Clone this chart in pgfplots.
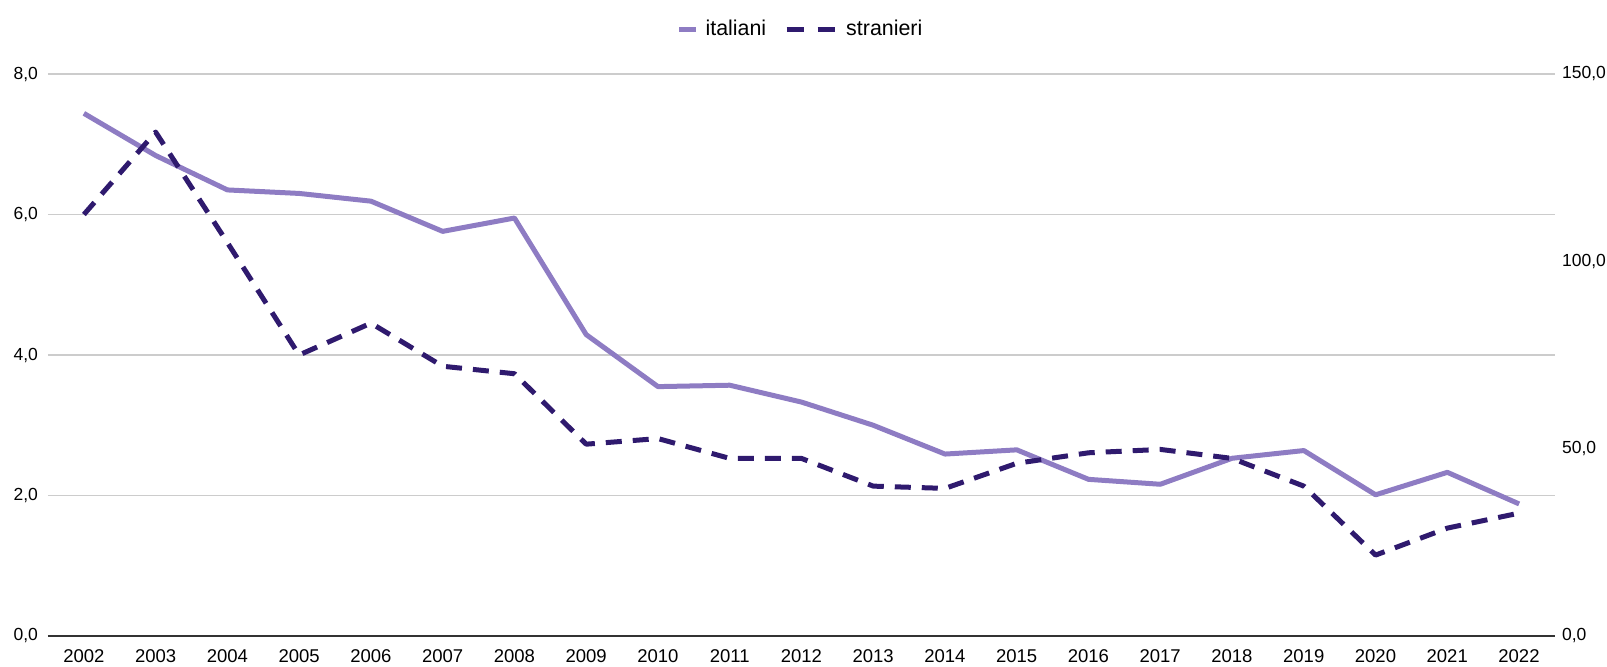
\documentclass[border=0pt]{standalone}
\usepackage{pgfplots}
\pgfplotsset{compat=1.18}
\usepackage{fontspec}
\setmainfont{Liberation Sans}
\definecolor{ital}{HTML}{8E7CC3}
\definecolor{stran}{HTML}{2F1A6E}
\definecolor{gridc}{HTML}{CCCCCC}
\definecolor{axc}{HTML}{333333}
\begin{document}
\begin{tikzpicture}
\path[use as bounding box] (-24pt,-15pt) rectangle (779.5pt,318pt);
\pgfplotsset{
  common/.style={
    scale only axis, width=753.5pt, height=281pt,
    at={(0,0)}, anchor=south west,
    xmin=2001.5, xmax=2022.5,
    ymin=0,
    tick style={draw=none},
    /pgf/number format/assume math mode=true,
    yticklabel style={font=\fontsize{8.75}{10}\selectfont, /pgf/number format/fixed, /pgf/number format/fixed zerofill, /pgf/number format/precision=1, /pgf/number format/use comma},
  }
}
\begin{axis}[common,
  ymax=8,
  ytick={0,2,4,6,8},
  xtick={2002,...,2022},
  xticklabel style={font=\fontsize{9.25}{11}\selectfont, /pgf/number format/1000 sep={}, yshift=-3.5pt},
  axis x line*=bottom,
  axis y line*=left,
  y axis line style={draw=none},
  x axis line style={draw=axc, line width=1pt},
  ymajorgrids, major grid style={draw=gridc, line width=0.75pt},
  yticklabel style={xshift=-1.5pt},
]
\addplot[color=ital, line width=2.5pt, line join=round] coordinates {
(2002,7.44) (2003,6.84) (2004,6.35) (2005,6.30) (2006,6.19) (2007,5.76) (2008,5.95)
(2009,4.29) (2010,3.55) (2011,3.57) (2012,3.33) (2013,3.00) (2014,2.59) (2015,2.65)
(2016,2.23) (2017,2.16) (2018,2.53) (2019,2.64) (2020,2.01) (2021,2.33) (2022,1.88)
};
\end{axis}
\begin{axis}[common,
  ymax=150,
  ytick={0,50,100,150},
  xtick=\empty,
  axis x line=none,
  axis y line*=right,
  y axis line style={draw=none},
  yticklabel style={xshift=0pt},
  legend style={at={(0.5,1.08)}, anchor=center, draw=none, fill=none,
    legend columns=2, font=\fontsize{10.7}{12}\selectfont,
    /tikz/every even column/.append style={column sep=7pt}},
]
\addlegendimage{legend image code/.code={\draw[color=ital, line width=2.5pt] (0pt,0pt) -- (8.5pt,0pt); \path (11pt,0pt);}}
\addlegendentry{italiani}
\addplot[color=stran, line width=2.5pt, dash pattern=on 8pt off 5.5pt, line join=round,
  legend image code/.code={\draw[color=stran, line width=2.5pt, dash pattern=on 8.5pt off 7pt] (0pt,0pt) -- (24pt,0pt); \path (26.5pt,0pt);}] coordinates {
(2002,112.5) (2003,134.5) (2004,105) (2005,75) (2006,83.5) (2007,72) (2008,70)
(2009,51.2) (2010,52.7) (2011,47.4) (2012,47.4) (2013,40) (2014,39.4) (2015,46.1)
(2016,48.9) (2017,49.8) (2018,47.4) (2019,40) (2020,21.6) (2021,28.8) (2022,32.8)
};
\addlegendentry{stranieri}
\end{axis}
\end{tikzpicture}
\end{document}
